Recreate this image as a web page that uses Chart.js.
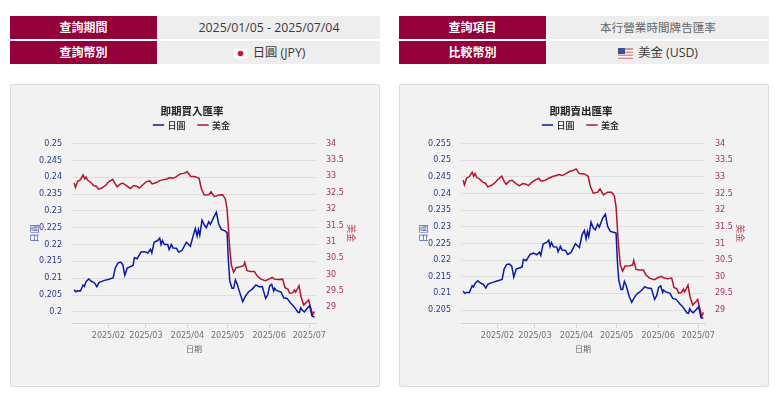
<!DOCTYPE html>
<html lang="zh-Hant">
<head>
<meta charset="utf-8">
<title>即期匯率</title>
<script src="https://cdn.jsdelivr.net/npm/chart.js@4/dist/chart.umd.min.js"></script>
<style>
    html, body { margin: 0; padding: 0; background: #fff; }
    body { width: 780px; height: 396px; position: relative; overflow: hidden; font-family: "Open Sans", "Noto Sans CJK TC", sans-serif; }
    .cell { position: absolute; height: 23px; line-height: 23px; text-align: center; box-sizing: border-box; white-space: nowrap; }
    .head { width: 147px; background: #93003a; color: #fff; font-size: 12px; font-weight: 700; }
    .val { width: 222px; background: #eee; color: #3a3a3a; font-size: 12.3px; }
    .val.light { color: #666; font-size: 11.6px; }
    .val svg { vertical-align: -2px; margin-right: 2px; }
    .panel { position: absolute; top: 84px; width: 370px; height: 303px; background: #f2f2f2; border-radius: 3px; box-shadow: inset 0 0 0 1px #ddd; }
</style>
</head>
<body>
<div class="cell head" style="left:10px;top:16px">查詢期間</div>
<div class="cell val" style="left:158px;top:16px">2025/01/05 - 2025/07/04</div>
<div class="cell head" style="left:10px;top:41px">查詢幣別</div>
<div class="cell val" style="left:158px;top:41px">
    <svg width="15" height="11" viewBox="0 0 15 11"><rect width="15" height="11" fill="#fff" stroke="#ccc" stroke-width="0.5"/><circle cx="7.5" cy="5.5" r="2.8" fill="#d3102f"/></svg>
    日圓 (JPY)</div>
<div class="cell head" style="left:399px;top:16px">查詢項目</div>
<div class="cell val light" style="left:547px;top:16px">本行營業時間牌告匯率</div>
<div class="cell head" style="left:399px;top:41px">比較幣別</div>
<div class="cell val" style="left:547px;top:41px">
    <svg width="15" height="11" viewBox="0 0 15 11"><rect width="15" height="11" fill="#e08d8d"/><rect y="2" width="15" height="1.5" fill="#fff"/><rect y="5" width="15" height="1.5" fill="#fff"/><rect y="8" width="15" height="1.5" fill="#fff"/><rect width="7" height="6" fill="#3c4f94"/></svg>
    美金 (USD)</div>

<div class="panel" style="left:10px"><canvas id="buyChart" width="370" height="303"></canvas></div>
<div class="panel" style="left:399px"><canvas id="sellChart" width="370" height="303"></canvas></div>

<script>
// x values are days counted from 2025/01/01
const monthDays = [31, 59, 90, 120, 151, 181];
const monthLabels = ['2025/02', '2025/03', '2025/04', '2025/05', '2025/06', '2025/07'];

const jpyDays = [5.4, 6.6, 8.1, 10.1, 12.1, 13.1, 14.3, 16.3, 18.3, 20.6, 22.3, 24, 27.5, 31.3, 34.5, 36, 38, 40, 41.7, 43.2, 45, 49.4, 50.4, 52.4, 55.4, 57.9, 60.4, 62.4, 63.4, 65.1, 67.8, 69.3, 70.3, 71.3, 72.8, 75.3, 76.3, 78, 79.3, 81.8, 83.5, 86, 89.2,
    92.2, 94.2, 95.9, 97.2, 98.2, 99.2, 100.9, 102.6, 104.1, 105.9, 107.1, 109.6, 111.6, 113.3, 115.3, 118.3, 119.6, 120.6, 121.6, 123.3, 124.5, 125.8, 127, 129.5, 131.3, 133.3, 135.7, 138.2, 141.2, 143.2, 145.9, 148.4, 149.9, 151.4, 152.9, 154.4, 155.1, 156.4, 159.9, 161.9, 164.4, 166.8, 169.3, 172.6, 173.6, 174.6, 175.8, 177.3, 179.3, 181.3, 183, 184.8];
const usdDays = [5.4, 6.4, 7.9, 10.1, 12.1, 13.3, 14.3, 15.6, 17.6, 20, 22, 23.8, 26.3, 28.8, 31.3, 34.2, 36.2, 37.5, 40, 41.9, 44.9, 47.4, 49.9, 52.4, 54.1, 56.9, 59.4, 61.9, 63.6, 66.8, 69.3, 72.3, 74.8, 76.8, 79.3, 81.8, 84.7, 87.2, 89.7, 91.7,
    92.2, 95.9, 98.7, 100.4, 102.6, 105.9, 107.6, 110.1, 113.3, 116.3, 118.3, 119.6, 120.6, 121.6, 122.8, 124.5, 126.3, 129.5, 132, 132.8, 134.5, 137, 140, 142, 144.9, 148.2, 150.7, 153.4, 154.9, 158.1, 161.1, 162.9, 165.1, 166.3, 168.6, 169.8, 170.8, 173.3, 174.8, 176.8, 178.8, 180.5, 181.8, 183.5, 184.8];

const jpyBuy = [.2066, .206, .2063, .2062, .208, .2076, .209, .2098, .2091, .2086, .2075, .2087, .2093, .2097, .2101, .2129, .2145, .2148, .2141, .2109, .213, .2138, .2161, .2158, .2178, .2179, .2175, .2186, .2175, .2207, .2212, .2219, .22, .2212, .22, .22, .2185, .22, .219, .2189, .2177, .2183, .2207,
    .2195, .2225, .2248, .2225, .2245, .2228, .2273, .2258, .225, .2268, .226, .2281, .2296, .2262, .2245, .224, .2235, .2151, .2092, .207, .207, .2095, .2084, .2052, .203, .2047, .206, .2067, .208, .2075, .2075, .204, .205, .2077, .2082, .2062, .207, .2064, .2059, .2042, .204, .2027, .2017, .1999, .1998, .2012, .2005, .2, .201, .2018, .1988, .1985];
const usdBuy = [32.8, 32.66, 32.84, 32.9, 33.04, 32.92, 32.98, 32.88, 32.82, 32.72, 32.7, 32.61, 32.65, 32.72, 32.84, 32.91, 32.76, 32.68, 32.77, 32.79, 32.7, 32.63, 32.72, 32.69, 32.64, 32.75, 32.84, 32.86, 32.77, 32.81, 32.87, 32.9, 32.92, 32.96, 32.94, 32.99, 33.08, 33.09, 33.14, 33.04,
    33, 32.99, 32.94, 32.62, 32.43, 32.44, 32.53, 32.38, 32.43, 32.44, 32.31, 32.01, 31.4, 30.79, 30.29, 30.07, 30.21, 30.24, 30.27, 30.37, 30.12, 30.09, 30.09, 29.96, 29.86, 29.81, 29.86, 29.91, 29.86, 29.85, 29.86, 29.6, 29.55, 29.43, 29.44, 29.53, 29.46, 29.66, 29.33, 29.07, 29.15, 29.23, 29.02, 28.77, 28.87];
const jpySell = [.2107, .21, .2103, .2103, .2123, .2119, .213, .2138, .2131, .2127, .2116, .2128, .2133, .2138, .2142, .2173, .2187, .2188, .2182, .2149, .2173, .2179, .2202, .2198, .2217, .2221, .2216, .2224, .2214, .2248, .2253, .226, .2241, .2253, .224, .2239, .2225, .2241, .223, .2229, .2217, .2223, .2249,
    .2238, .2276, .2289, .2264, .2286, .2271, .2314, .2296, .2291, .2308, .2299, .2326, .2338, .2301, .2286, .2283, .2281, .2195, .214, .2112, .2112, .2136, .2125, .209, .2073, .2088, .21, .2107, .212, .2116, .2115, .2082, .2093, .2118, .2123, .2103, .211, .2105, .21, .2085, .2082, .207, .206, .2041, .204, .2054, .2046, .2042, .2051, .206, .2027, .2025];
const usdSell = [32.9, 32.76, 32.96, 33.01, 33.14, 33.02, 33.1, 32.98, 32.94, 32.84, 32.81, 32.7, 32.74, 32.81, 32.92, 33.02, 32.86, 32.78, 32.88, 32.9, 32.8, 32.73, 32.8, 32.78, 32.74, 32.84, 32.91, 32.96, 32.87, 32.9, 32.96, 33.01, 33.04, 33.07, 33.04, 33.09, 33.16, 33.19, 33.24, 33.12,
    33.1, 33.09, 33.02, 32.72, 32.51, 32.54, 32.64, 32.46, 32.54, 32.54, 32.43, 32.1, 31.45, 30.85, 30.35, 30.17, 30.32, 30.33, 30.35, 30.49, 30.22, 30.2, 30.2, 30.05, 29.95, 29.91, 29.97, 30.01, 29.97, 29.94, 29.96, 29.68, 29.63, 29.51, 29.53, 29.63, 29.55, 29.75, 29.4, 29.15, 29.23, 29.32, 29.1, 28.8, 28.93];

const jpyBuyTicks = [0.25, 0.245, 0.24, 0.235, 0.23, 0.225, 0.22, 0.215, 0.21, 0.205, 0.2];
const jpySellTicks = [0.255, 0.25, 0.245, 0.24, 0.235, 0.23, 0.225, 0.22, 0.215, 0.21, 0.205];
const usdTicks = [34, 33.5, 33, 32.5, 32, 31.5, 31, 30.5, 30, 29.5, 29];

const FONT = '"DejaVu Sans", "Noto Sans CJK TC", sans-serif';
const TITLE_FONT = '"Noto Sans CJK TC", sans-serif';

function points(days, values) {
    return days.map((d, i) => ({ x: d, y: values[i] }));
}

// Leave some room under the legend without spreading its items further apart
const legendGap = {
    id: 'legendGap',
    beforeInit(chart) {
        const fit = chart.legend.fit;
        chart.legend.fit = function () {
            fit.call(this);
            this.height += 4;
        };
    }
};

function makeChart(id, title, jpy, usd, jpyTicks, jpyMin, usdMin) {
    new Chart(document.getElementById(id), {
        type: 'line',
        plugins: [legendGap],
        data: {
            datasets: [{
                label: '日圓',
                data: points(jpyDays, jpy),
                yAxisID: 'yJpy',
                borderColor: '#0a1aa5',
                backgroundColor: '#0a1aa5',
                borderWidth: 1.5,
                pointRadius: 0,
                tension: 0
            }, {
                label: '美金',
                data: points(usdDays, usd),
                yAxisID: 'yUsd',
                borderColor: '#b5132d',
                backgroundColor: '#b5132d',
                borderWidth: 1.5,
                pointRadius: 0,
                tension: 0
            }]
        },
        options: {
            responsive: false,
            animation: false,
            layout: { padding: { right: 6 } },
            plugins: {
                tooltip: { enabled: false },
                title: {
                    display: true,
                    text: title,
                    color: '#222',
                    font: { family: TITLE_FONT, size: 10.5, weight: '700' },
                    padding: { top: 21, bottom: -10 }
                },
                legend: {
                    display: true,
                    labels: {
                        usePointStyle: true,
                        pointStyle: 'line',
                        boxWidth: 10,
                        boxHeight: 8,
                        color: '#222',
                        padding: 13,
                        font: { family: TITLE_FONT, size: 9, weight: '500' }
                    }
                }
            },
            scales: {
                x: {
                    type: 'linear',
                    min: 3.8,
                    max: 186,
                    afterBuildTicks: axis => { axis.ticks = monthDays.map(v => ({ value: v })); },
                    afterFit: axis => { axis.height = 64; },
                    ticks: {
                        autoSkip: false,
                        maxRotation: 0,
                        color: '#707070',
                        font: { family: FONT, size: 8 },
                        padding: 3,
                        callback: v => monthLabels[monthDays.indexOf(v)]
                    },
                    grid: { drawOnChartArea: false, tickLength: 5, tickColor: '#ccd6eb' },
                    border: { color: '#ccd6eb' },
                    title: {
                        display: true,
                        text: '日期',
                        color: '#666',
                        font: { family: TITLE_FONT, size: 8 },
                        padding: { top: 0, bottom: 33 }
                    }
                },
                yJpy: {
                    position: 'left',
                    min: jpyMin,
                    max: jpyTicks[0],
                    afterBuildTicks: axis => { axis.ticks = jpyTicks.map(v => ({ value: v })); },
                    afterFit: axis => { axis.width = 62; },
                    ticks: {
                        color: '#2b3a8c',
                        font: { family: FONT, size: 8 },
                        padding: 10,
                        callback: v => String(v)
                    },
                    grid: { color: '#dedede', drawTicks: false, lineWidth: 1 },
                    border: { display: false },
                    title: {
                        display: true,
                        text: '日圓',
                        color: '#4a56b0',
                        font: { family: TITLE_FONT, size: 9 },
                        padding: { top: 19, bottom: 0 }
                    }
                },
                yUsd: {
                    position: 'right',
                    min: usdMin,
                    max: usdTicks[0],
                    afterBuildTicks: axis => { axis.ticks = usdTicks.map(v => ({ value: v })); },
                    afterFit: axis => { axis.width = 58; },
                    ticks: {
                        color: '#a8344f',
                        font: { family: FONT, size: 8 },
                        padding: 10,
                        callback: v => String(v)
                    },
                    grid: { drawOnChartArea: false, drawTicks: false },
                    border: { display: false },
                    title: {
                        display: true,
                        text: '美金',
                        color: '#c0475f',
                        font: { family: TITLE_FONT, size: 9 },
                        padding: { top: 17, bottom: 0 }
                    }
                }
            }
        }
    });
}

makeChart('buyChart', '即期買入匯率', jpyBuy, usdBuy, jpyBuyTicks, 0.1967, 28.52);
makeChart('sellChart', '即期賣出匯率', jpySell, usdSell, jpySellTicks, 0.2011, 28.61);
</script>
</body>
</html>
